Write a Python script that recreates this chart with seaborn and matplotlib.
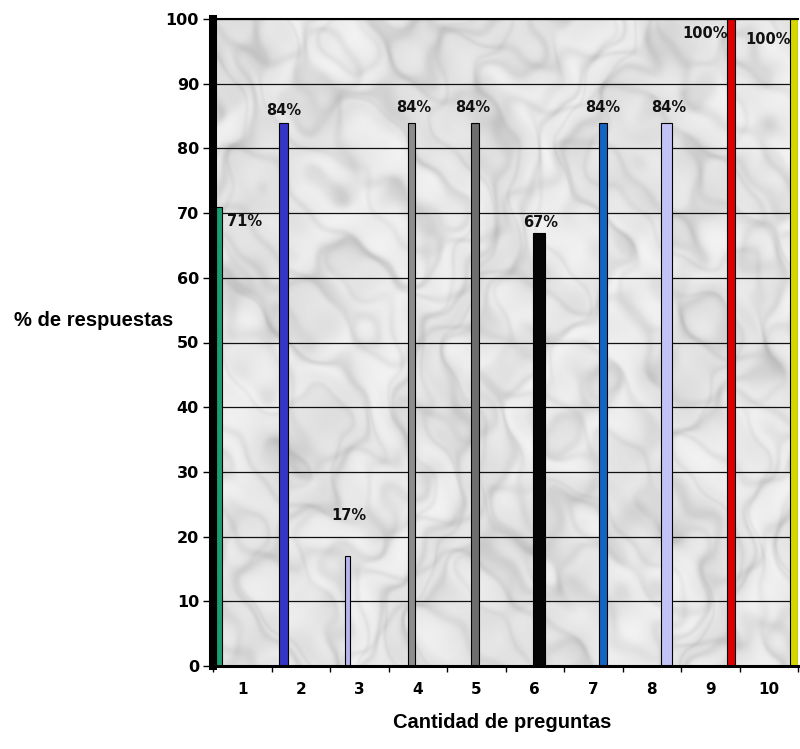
import numpy as np
import pandas as pd
import matplotlib
matplotlib.use("Agg")
import matplotlib.pyplot as plt
import seaborn as sns

# ---- data -------------------------------------------------------------
preguntas = ["1", "2", "3", "4", "5", "6", "7", "8", "9", "10"]
porcentajes = [71, 84, 17, 84, 84, 67, 84, 84, 100, 100]
etiquetas = ["71%", "84%", "17%", "84%", "84%", "67%", "84%", "84%", "100%", "100%"]
y_ticks = [0, 10, 20, 30, 40, 50, 60, 70, 80, 90, 100]

# ---- styling ----------------------------------------------------------
colores = ["#1c9e74", "#3535c6", "#b4b4ee", "#8c8c8c", "#6e6e6e",
           "#050505", "#1464c4", "#c2c2f6", "#dd0000", "#d6d600"]
# bar widths in pixels
ancho_px = [6, 9, 5, 7, 8, 12, 8, 11, 8, 8]
# label placement: (dx px, dy px, horizontal alignment)
pos_etiqueta = [(8, -15, "left"), (0, 12, "center"), (2, 41, "center"),
                (3, 15, "center"), (-2, 15, "center"), (2, 10, "center"),
                (0, 15, "center"), (2, 15, "center"), (-3, -14, "right"),
                (-4, -20, "right")]

W, H, DPI = 800, 749, 100
plt.rcParams["font.family"] = ["DejaVu Sans"]

fig = plt.figure(figsize=(W / DPI, H / DPI), dpi=DPI)
ax_left, ax_right, ax_top, ax_bottom = 213, 798, 19, 666
ax = fig.add_axes([ax_left / W, 1 - ax_bottom / H,
                   (ax_right - ax_left) / W, (ax_bottom - ax_top) / H])

# horizontal layout: first bar sits just right of the wall, one unit per bar
first_bar_px, bar_step_px = 219.3, 63.9
x0 = (ax_left - first_bar_px) / bar_step_px
x1 = (ax_right - first_bar_px) / bar_step_px
units_per_px = 1.0 / bar_step_px

# soft marble backdrop for the plot wall
h, w = 650, 590
yy, xx = np.mgrid[0:h, 0:w] / 100.0
turb = (np.sin(1.7 * xx + 0.6 * yy) + 0.6 * np.sin(0.9 * xx - 2.3 * yy + 1.1)
        + 0.4 * np.sin(3.9 * xx + 2.7 * yy + 2.0) + 0.3 * np.sin(-5.3 * xx + 6.1 * yy + 0.3)
        + 0.12 * np.sin(9.7 * xx + 8.3 * yy + 1.7) + 0.08 * np.sin(13.1 * xx - 11.9 * yy + 2.9))
v1 = np.sin(3.2 * xx + 1.0 * yy + 2.0 * turb)
v2 = np.sin(-1.4 * xx + 3.6 * yy + 1.7 * turb + 1.0)
v3 = np.sin(5.3 * xx - 1.2 * yy + 2.4 * turb + 2.2)
veins = (np.exp(-v1 ** 2 / 0.12) + 0.8 * np.exp(-v2 ** 2 / 0.10)
         + 0.6 * np.exp(-v3 ** 2 / 0.08))
cloud = 0.5 + 0.5 * np.sin(1.3 * xx - 0.6 * yy + 2.2 * turb)
speck = 0.5 + 0.5 * np.sin(11.0 * xx + 3.0 * turb) * np.sin(9.0 * yy - 2.0 * turb)
marble = np.clip(0.95 - 0.065 * veins - 0.05 * cloud - 0.03 * speck, 0, 1)
ax.imshow(marble, extent=(x0, x1, 0, 100), aspect="auto", cmap="gray",
          vmin=0, vmax=1, interpolation="bilinear", zorder=0)

# bars
df = pd.DataFrame({"pregunta": preguntas, "porcentaje": porcentajes})
sns.barplot(data=df, x="pregunta", y="porcentaje", hue="pregunta",
            palette=colores, legend=False, saturation=1, width=0.12,
            edgecolor="black", linewidth=0.8, ax=ax, zorder=2)

for i, cont in enumerate(ax.containers):
    for bar in cont:
        cx = bar.get_x() + bar.get_width() / 2
        wd = ancho_px[i] * units_per_px
        bar.set_width(wd)
        bar.set_x(cx - wd / 2)
        bar.set_zorder(2)

# value labels
for i, (v, txt) in enumerate(zip(porcentajes, etiquetas)):
    dx, dy, ha = pos_etiqueta[i]
    ax.annotate(txt, xy=(i, v), xytext=(dx * 0.72, dy * 0.72),
                textcoords="offset points", ha=ha, va="center",
                fontsize=10.5, fontweight="bold", color="#111111", zorder=3)

# axes limits, grid and spines
ax.set_xlim(x0, x1)
ax.set_ylim(0, 100)
ax.set_yticks(y_ticks)
ax.set_yticklabels([str(t) for t in y_ticks], fontsize=11.5, fontweight="bold")
ax.yaxis.grid(True, color="#111111", linewidth=0.9)
ax.xaxis.grid(False)
ax.set_axisbelow(True)
ax.tick_params(axis="y", length=7.2, width=1, pad=2.9, color="black")

slot = (x1 - x0) / 10
ax.set_xticks([x0 + slot * k for k in range(11)], minor=True)
ax.set_xticks([x0 + slot * (k + 0.5) for k in range(10)])
ax.set_xticklabels(preguntas, fontsize=11, fontweight="bold")
ax.tick_params(axis="x", which="major", length=0, pad=11.5)
ax.tick_params(axis="x", which="minor", length=4.3, width=1, color="black")

ax.spines["left"].set_linewidth(5.8)
ax.spines["bottom"].set_linewidth(2.2)
ax.spines["top"].set_linewidth(1.5)
for s in ("left", "bottom", "top"):
    ax.spines[s].set_color("black")
    ax.spines[s].set_zorder(4)
ax.spines["right"].set_visible(False)

ax.set_ylabel("% de respuestas", rotation=0, fontsize=14.5, fontweight="bold",
              family=["Liberation Sans", "DejaVu Sans"], ha="right", va="center")
ax.yaxis.set_label_coords((173 - ax_left) / (ax_right - ax_left),
                          (ax_bottom - 320) / (ax_bottom - ax_top))
ax.set_xlabel("Cantidad de preguntas", fontsize=14.5, fontweight="bold",
              family=["Liberation Sans", "DejaVu Sans"], ha="center", va="center")
ax.xaxis.set_label_coords((502 - ax_left) / (ax_right - ax_left),
                          (ax_bottom - 722) / (ax_bottom - ax_top))

fig.savefig("out.png", dpi=DPI, facecolor="white")
